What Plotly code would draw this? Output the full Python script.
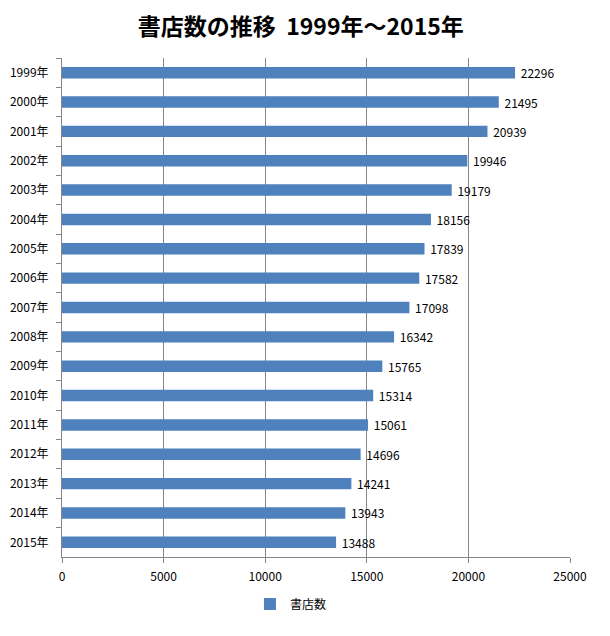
import plotly.graph_objects as go

years = ["1999年", "2000年", "2001年", "2002年", "2003年", "2004年", "2005年", "2006年",
         "2007年", "2008年", "2009年", "2010年", "2011年", "2012年", "2013年", "2014年", "2015年"]
stores = [22296, 21495, 20939, 19946, 19179, 18156, 17839, 17582,
          17098, 16342, 15765, 15314, 15061, 14696, 14241, 13943, 13488]
series_name = "書店数"
title_text = "書店数の推移  1999年～2015年"

FONT = "Noto Sans CJK JP"

fig = go.Figure()
fig.add_trace(go.Bar(
    y=years, x=stores, orientation="h", name=series_name,
    marker=dict(color="#4F81BD", line=dict(width=0)),
    width=0.39,
    text=["\u00a0" + str(v) for v in stores], textposition="outside",
    constraintext="none",
    textfont=dict(size=12, color="black", family=FONT),
    cliponaxis=False, showlegend=True,
))

fig.update_layout(
    width=610, height=636,
    paper_bgcolor="white", plot_bgcolor="white",
    margin=dict(l=54, r=48, t=50, b=87, autoexpand=False),
    font=dict(family=FONT, size=12, color="black"),
    title=dict(text="<b>" + title_text + "</b>", x=0.48, xanchor="center", xref="container",
               y=0.971, yanchor="middle", font=dict(size=23, family=FONT)),
    showlegend=True,
    legend=dict(orientation="h", x=0.37, xanchor="left", y=-0.065, yanchor="top",
                font=dict(size=12, family=FONT), itemwidth=30),
    xaxis=dict(range=[0, 25000], dtick=5000, tickformat="d",
               showgrid=True, gridcolor="#868686", gridwidth=1,
               showline=True, linecolor="#868686", ticks="outside", ticklen=5,
               tickcolor="#868686", zeroline=False, tickfont=dict(size=12),
               ticklabelstandoff=4, automargin=False),
    yaxis=dict(autorange="reversed", showline=True, linecolor="#868686",
               ticks="outside", tickson="boundaries", ticklen=5, tickcolor="#868686",
               showgrid=False, tickfont=dict(size=12), ticklabelstandoff=10,
               automargin=False),
)

fig.write_html("out.html")
